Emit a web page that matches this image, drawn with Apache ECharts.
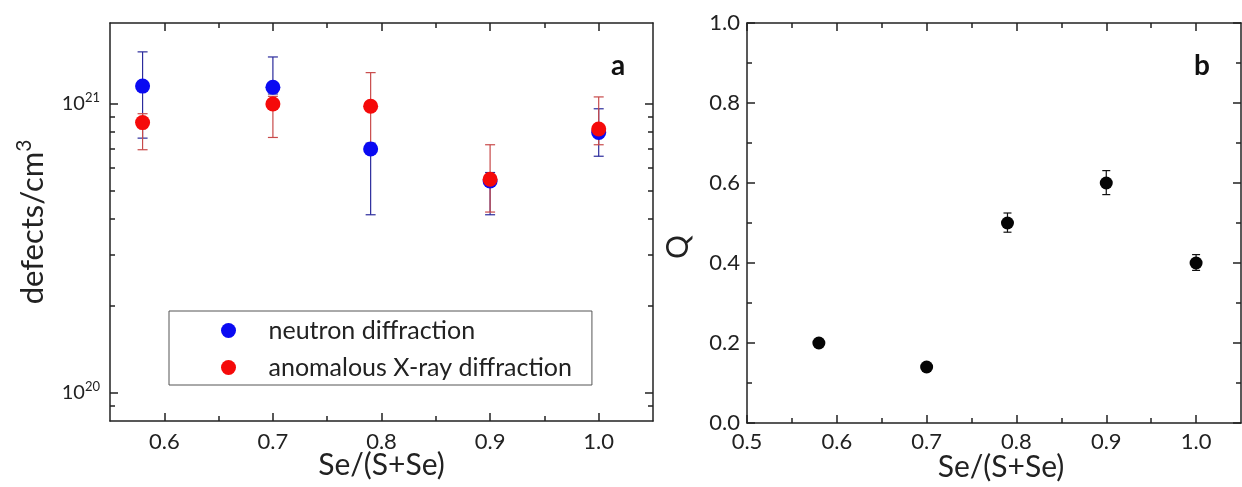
<!DOCTYPE html>
<html>
<head>
<meta charset="utf-8">
<script src="https://cdn.jsdelivr.net/npm/echarts@6/dist/echarts.min.js"></script>
<style>
  html, body { margin: 0; padding: 0; background: #fff; }
  #chart { width: 1242px; height: 487px; }
</style>
</head>
<body>
<div id="chart"></div>
<script>
// panel a: defect density, log scale
const seRatio = [0.58, 0.70, 0.79, 0.90, 1.00];
const neutron = [1.15e21, 1.14e21, 6.97e20, 5.40e20, 7.95e20];
const neutronLow = [7.6e20, 1.08e21, 4.13e20, 4.13e20, 6.58e20];
const neutronHigh = [1.51e21, 1.45e21, 7.3e20, 5.78e20, 9.6e20];
const xray = [8.6e20, 9.97e20, 9.79e20, 5.48e20, 8.17e20];
const xrayLow = [6.93e20, 7.64e20, 7.08e20, 4.22e20, 7.21e20];
const xrayHigh = [9.23e20, 1.06e21, 1.28e21, 7.21e20, 1.055e21];

// panel b: Q
const qValue = [0.20, 0.14, 0.50, 0.60, 0.40];
const qLow = [null, null, 0.477, 0.571, 0.3815];
const qHigh = [null, null, 0.525, 0.631, 0.421];

// ticks
const xMajorA = [0.6, 0.7, 0.8, 0.9, 1.0];
const xMinorA = [0.65, 0.75, 0.85, 0.95];
const yMajorA = [1e20, 1e21];
const yMinorA = [9e19, 2e20, 3e20, 4e20, 5e20, 6e20, 7e20, 8e20, 9e20];
const xMajorB = [0.5, 0.6, 0.7, 0.8, 0.9, 1.0];
const xMinorB = [0.55, 0.65, 0.75, 0.85, 0.95];
const yMajorB = [0, 0.2, 0.4, 0.6, 0.8, 1.0];
const yMinorB = [0.1, 0.3, 0.5, 0.7, 0.9];

const FONT = 'Lato';
const INK = '#222';

const chart = echarts.init(document.getElementById('chart'));

function axis(o) {
  return {
    gridIndex: o.grid,
    type: o.type || 'value',
    logBase: 10,
    position: o.position,
    min: o.min,
    max: o.max,
    name: o.name,
    nameLocation: 'middle',
    nameGap: o.nameGap,
    nameMoveOverlap: false,
    nameTextStyle: o.nameStyle,
    axisLine: { show: !!o.line, onZero: false, lineStyle: { color: INK, width: 1.5 } },
    axisTick: { show: true, inside: true, length: o.len, customValues: o.values, lineStyle: { color: INK, width: 1.5 } },
    axisLabel: o.label
      ? Object.assign({ show: true, customValues: o.values, color: INK, fontFamily: FONT, fontSize: 22 }, o.label)
      : { show: false },
    splitLine: { show: false }
  };
}

function errorBars(color, capHalf) {
  return function (params, api) {
    const lo = api.value(1), hi = api.value(2);
    if (isNaN(lo) || isNaN(hi)) return null;
    const x = api.value(0);
    const top = api.coord([x, hi]);
    const bot = api.coord([x, lo]);
    const style = { stroke: color, lineWidth: 1.2 };
    return {
      type: 'group',
      children: [
        { type: 'line', shape: { x1: top[0], y1: top[1], x2: bot[0], y2: bot[1] }, style },
        { type: 'line', shape: { x1: top[0] - capHalf, y1: top[1], x2: top[0] + capHalf, y2: top[1] }, style },
        { type: 'line', shape: { x1: bot[0] - capHalf, y1: bot[1], x2: bot[0] + capHalf, y2: bot[1] }, style }
      ]
    };
  };
}

const oneDec = v => Number(v).toFixed(1);
const titleStyle = { fontFamily: FONT, fontSize: 30, color: INK };

const option = {
  backgroundColor: '#fff',
  animation: false,
  textStyle: { fontFamily: FONT },
  title: [
    { text: 'a', left: 611, top: 52, padding: 0, textStyle: { fontFamily: FONT, fontSize: 28, fontWeight: 'bold', color: '#111' } },
    { text: 'b', left: 1194, top: 52, padding: 0, textStyle: { fontFamily: FONT, fontSize: 28, fontWeight: 'bold', color: '#111' } }
  ],
  grid: [
    { left: 110, top: 23, width: 543, height: 398, outerBoundsMode: 'none', containLabel: false },
    { left: 747, top: 23, width: 494, height: 400, outerBoundsMode: 'none', containLabel: false }
  ],
  legend: {
    data: ['neutron diffraction', 'anomalous X-ray diffraction'],
    orient: 'vertical',
    left: 169,
    top: 311,
    padding: [7, 20, 5, 52],
    itemWidth: 70,
    itemHeight: 15,
    itemGap: 12,
    borderColor: '#555',
    borderWidth: 1,
    textStyle: { fontFamily: FONT, fontSize: 25, color: INK, lineHeight: 25 }
  },
  xAxis: [
    axis({ grid: 0, position: 'bottom', min: 0.55, max: 1.05, values: xMajorA, len: 8, line: true,
      label: { formatter: oneDec, margin: 10 },
      name: 'Se/(S+Se)', nameGap: 29, nameStyle: titleStyle }),
    axis({ grid: 0, position: 'bottom', min: 0.55, max: 1.05, values: xMinorA, len: 5 }),
    axis({ grid: 0, position: 'top', min: 0.55, max: 1.05, values: xMajorA, len: 8, line: true }),
    axis({ grid: 0, position: 'top', min: 0.55, max: 1.05, values: xMinorA, len: 5 }),
    axis({ grid: 1, position: 'bottom', min: 0.5, max: 1.05, values: xMajorB, len: 8, line: true,
      label: { formatter: oneDec, margin: 8 },
      name: 'Se/(S+Se)', nameGap: 29, nameStyle: Object.assign({ padding: [0, 0, 0, 14] }, titleStyle) }),
    axis({ grid: 1, position: 'bottom', min: 0.5, max: 1.05, values: xMinorB, len: 5 }),
    axis({ grid: 1, position: 'top', min: 0.5, max: 1.05, values: xMajorB, len: 8, line: true }),
    axis({ grid: 1, position: 'top', min: 0.5, max: 1.05, values: xMinorB, len: 5 })
  ],
  yAxis: [
    axis({ grid: 0, type: 'log', position: 'left', min: 8e19, max: 1.9e21, values: yMajorA, len: 8, line: true,
      label: {
        margin: 10,
        formatter: v => '10{sup|' + Math.round(Math.log10(v)) + '}',
        fontSize: 20,
        rich: { sup: { fontFamily: FONT, fontSize: 13, color: INK, padding: [0, 0, 12, 0], verticalAlign: 'bottom' } }
      },
      name: 'defects/cm{sup|3}', nameGap: 58,
      nameStyle: { fontFamily: FONT, fontSize: 31, color: INK,
        rich: { sup: { fontFamily: FONT, fontSize: 21, color: INK, padding: [0, 0, 17, 0], verticalAlign: 'bottom' } } } }),
    axis({ grid: 0, type: 'log', position: 'left', min: 8e19, max: 1.9e21, values: yMinorA, len: 5 }),
    axis({ grid: 0, type: 'log', position: 'right', min: 8e19, max: 1.9e21, values: yMajorA, len: 8, line: true }),
    axis({ grid: 0, type: 'log', position: 'right', min: 8e19, max: 1.9e21, values: yMinorA, len: 5 }),
    axis({ grid: 1, position: 'left', min: 0, max: 1, values: yMajorB, len: 8, line: true,
      label: { formatter: oneDec, margin: 7 },
      name: 'Q', nameGap: 54, nameStyle: Object.assign({ padding: [0, 48, 0, 0] }, titleStyle) }),
    axis({ grid: 1, position: 'left', min: 0, max: 1, values: yMinorB, len: 5 }),
    axis({ grid: 1, position: 'right', min: 0, max: 1, values: yMajorB, len: 8, line: true }),
    axis({ grid: 1, position: 'right', min: 0, max: 1, values: yMinorB, len: 5 })
  ],
  series: [
    {
      name: 'neutron error', type: 'custom', xAxisIndex: 0, yAxisIndex: 0,
      renderItem: errorBars('#2b2b9c', 5),
      encode: { x: 0, y: [1, 2] },
      data: seRatio.map((x, i) => [x, neutronLow[i], neutronHigh[i]]),
      z: 2
    },
    {
      name: 'xray error', type: 'custom', xAxisIndex: 0, yAxisIndex: 0,
      renderItem: errorBars('#c84a4a', 5),
      encode: { x: 0, y: [1, 2] },
      data: seRatio.map((x, i) => [x, xrayLow[i], xrayHigh[i]]),
      z: 2
    },
    {
      name: 'neutron diffraction', type: 'scatter', xAxisIndex: 0, yAxisIndex: 0,
      symbol: 'circle', symbolSize: 15,
      itemStyle: { color: '#0a0af2', opacity: 1 },
      data: seRatio.map((x, i) => [x, neutron[i]]),
      z: 3
    },
    {
      name: 'anomalous X-ray diffraction', type: 'scatter', xAxisIndex: 0, yAxisIndex: 0,
      symbol: 'circle', symbolSize: 15,
      itemStyle: { color: '#f50a0a', opacity: 1 },
      data: seRatio.map((x, i) => [x, xray[i]]),
      z: 4
    },
    {
      name: 'Q error', type: 'custom', xAxisIndex: 4, yAxisIndex: 4,
      renderItem: errorBars('#111', 4),
      encode: { x: 0, y: [1, 2] },
      data: seRatio.map((x, i) => [x, qLow[i] == null ? '-' : qLow[i], qHigh[i] == null ? '-' : qHigh[i]]),
      z: 2
    },
    {
      name: 'Q', type: 'scatter', xAxisIndex: 4, yAxisIndex: 4,
      symbol: 'circle', symbolSize: 13,
      itemStyle: { color: '#050505', opacity: 1 },
      data: seRatio.map((x, i) => [x, qValue[i]]),
      z: 3
    }
  ]
};

chart.setOption(option);
</script>
</body>
</html>
